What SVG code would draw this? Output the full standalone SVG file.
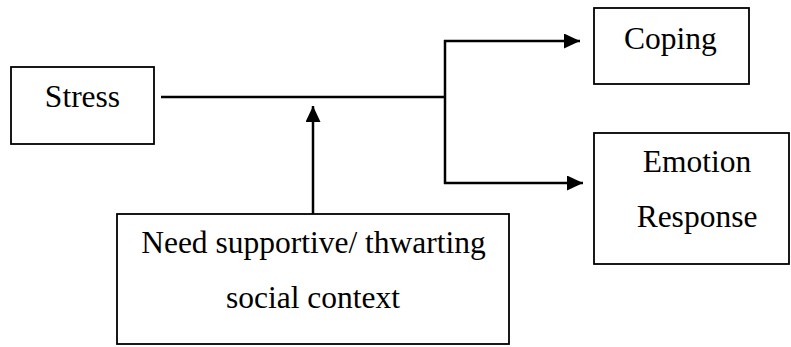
<svg xmlns="http://www.w3.org/2000/svg" width="791" height="347" viewBox="0 0 791 347">
<style>
.box{fill:#fff;stroke:#000;stroke-width:1.8}
.lbl{font-family:"Liberation Serif","Times New Roman",serif;font-size:31.5px;fill:#000;text-anchor:middle}
.con{fill:none;stroke:#000;stroke-width:2.5}
</style>
<defs>
<marker id="ah" markerUnits="userSpaceOnUse" markerWidth="17" markerHeight="15" refX="16" refY="7.5" orient="auto">
<path d="M0,0 L16,7.5 L0,15 z" fill="#000"/>
</marker>
</defs>
<rect width="791" height="347" fill="#fff"/>
<g id="stress">
<rect class="box" x="11" y="67" width="143" height="77"/>
<text class="lbl" x="82.5" y="106.5">Stress</text>
</g>
<g id="coping">
<rect class="box" x="594" y="8" width="155" height="76"/>
<text class="lbl" x="670.5" y="49">Coping</text>
</g>
<g id="emotion">
<rect class="box" x="594" y="133" width="195" height="131"/>
<text class="lbl" x="697" y="172">Emotion</text>
<text class="lbl" x="697" y="227">Response</text>
</g>
<g id="context">
<rect class="box" x="117" y="214" width="392" height="130"/>
<text class="lbl" x="313.5" y="252.5">Need supportive/ thwarting</text>
<text class="lbl" x="313" y="308">social context</text>
</g>
<g id="connectors">
<line class="con" x1="161" y1="97" x2="446" y2="97"/>
<line class="con" x1="445" y1="40" x2="445" y2="184"/>
<line class="con" x1="444" y1="41" x2="580" y2="41" marker-end="url(#ah)"/>
<line class="con" x1="444" y1="183" x2="583" y2="183" marker-end="url(#ah)"/>
<line class="con" x1="313" y1="214" x2="313" y2="106" marker-end="url(#ah)"/>
</g>
</svg>
